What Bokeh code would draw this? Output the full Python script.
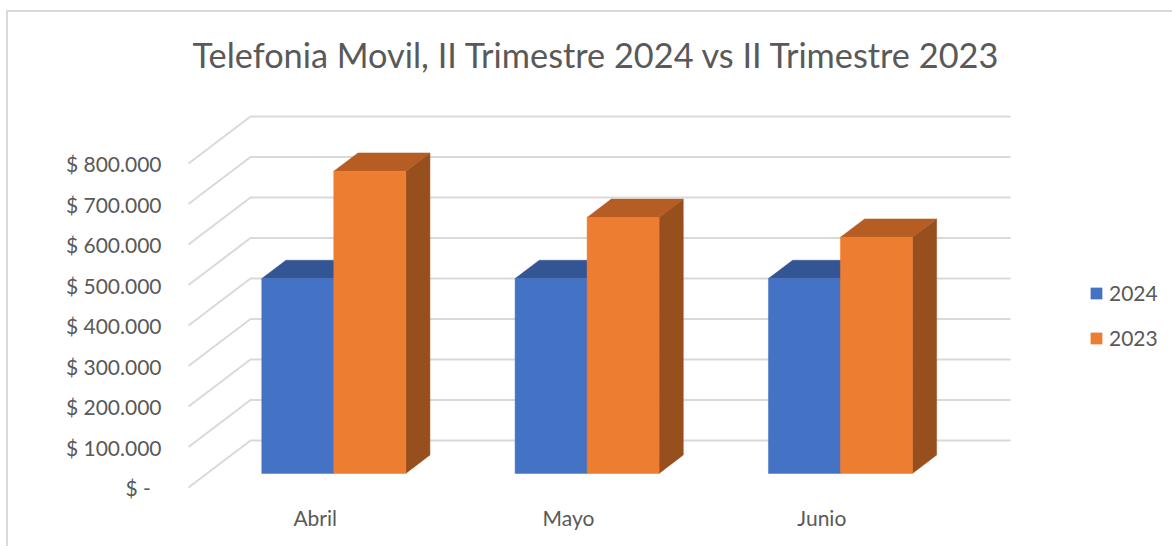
from bokeh.plotting import figure
from bokeh.models import Range1d, FixedTicker, Legend, LegendItem, Title
from bokeh.embed import file_html
from bokeh.resources import INLINE

categories = ["Abril", "Mayo", "Junio"]
series_names = ["2024", "2023"]
values_2024 = [481000, 481000, 481000]
values_2023 = [746000, 632000, 583000]
tick_values = [0, 100000, 200000, 300000, 400000, 500000, 600000, 700000, 800000]
tick_labels = ["$ -\u00a0\u00a0", "$ 100.000", "$ 200.000", "$ 300.000", "$ 400.000",
               "$ 500.000", "$ 600.000", "$ 700.000", "$ 800.000"]

FONT = "Lato"
TEXT = "#595959"
GRID = "#d9d9d9"
BLUE = ("#4472C4", "#335593", "#2F5597")
ORANGE = ("#ED7D31", "#B55D22", "#964F1D")

# scale: one category = 253.33 px, 100 000 $ = 40.5 px
PX_X = 1 / 253.33
PX_Y = 100000 / 40.5
DX = 62 * PX_X        # oblique offset of the full depth of the chart box
DY = 47 * PX_Y
BAR_W = 0.2842
D0, D1 = 0.30, 0.69   # depth occupied by the bars
CAT_COUNT = len(categories)

W, H = 1172, 546
FRAME_L, FRAME_R, FRAME_T, FRAME_B = 184, 1172, 105, 492
ORIGIN_X, ORIGIN_Y = 188, 487


def proj(x, v, d):
    return x + DX * d, v + DY * d


p = figure(
    width=W, height=H, output_backend="svg", toolbar_location=None,
    frame_width=FRAME_R - FRAME_L, frame_height=FRAME_B - FRAME_T,
    min_border_left=FRAME_L, min_border_right=W - FRAME_R,
    min_border_top=FRAME_T, min_border_bottom=H - FRAME_B,
    x_range=Range1d((FRAME_L - ORIGIN_X) * PX_X, (FRAME_R - ORIGIN_X) * PX_X),
    y_range=Range1d((ORIGIN_Y - FRAME_B) * PX_Y, (ORIGIN_Y - FRAME_T) * PX_Y),
    background_fill_color=None, border_fill_color=None,
)
p.outline_line_color = None
p.grid.visible = False

# Chart-area border, painted behind the transparent plot
p.styles = {
    "background": (
        f"linear-gradient({GRID},{GRID}) 6px 10px/{W - 6}px 2px no-repeat,"
        f"linear-gradient({GRID},{GRID}) 6px 10px/2px {H - 10}px no-repeat,"
        "white"
    )
}

p.add_layout(Title(text="Telefonia Movil, II Trimestre 2024 vs II Trimestre 2023",
                   align="left", offset=8, standoff=62, text_font=FONT,
                   text_font_size="34.3px", text_font_style="normal", text_color=TEXT), "above")

# Axes
for ax in (p.yaxis[0], p.xaxis[0]):
    ax.axis_line_color = None
    ax.major_tick_line_color = None
    ax.minor_tick_line_color = None
    ax.major_tick_out = 0
    ax.major_label_text_font = FONT
    ax.major_label_text_font_size = "21px"
    ax.major_label_text_color = TEXT

p.yaxis[0].ticker = FixedTicker(ticks=tick_values)
p.yaxis[0].major_label_overrides = dict(zip(tick_values, tick_labels))
p.yaxis[0].major_label_standoff = 23

cat_pos = [i + 0.5 for i in range(CAT_COUNT)]
p.xaxis[0].ticker = FixedTicker(ticks=cat_pos)
p.xaxis[0].major_label_overrides = dict(zip(cat_pos, categories))
p.xaxis[0].major_label_standoff = 12

# Walls' gridlines
xs, ys = [], []
for v in tick_values:
    x0, y0 = proj(0, v, 0)
    x1, y1 = proj(0, v, 1)
    x2, y2 = proj(CAT_COUNT, v, 1)
    xs.append([x0, x1, x2])
    ys.append([y0, y1, y2])
p.multi_line(xs, ys, line_color=GRID, line_width=2)


def quad(pts):
    return [q[0] for q in pts], [q[1] for q in pts]


def bars(vals, left_offset, colors):
    front, top, side = ([], []), ([], []), ([], [])
    for i, v in enumerate(vals):
        a = i + 0.5 + left_offset
        b = a + BAR_W
        for target, pts in (
            (front, [proj(a, 0, D0), proj(b, 0, D0), proj(b, v, D0), proj(a, v, D0)]),
            (top, [proj(a, v, D0), proj(b, v, D0), proj(b, v, D1), proj(a, v, D1)]),
            (side, [proj(b, 0, D0), proj(b, 0, D1), proj(b, v, D1), proj(b, v, D0)]),
        ):
            qx, qy = quad(pts)
            target[0].append(qx)
            target[1].append(qy)
    p.patches(side[0], side[1], fill_color=colors[2], line_color=colors[2], line_width=0.5)
    p.patches(top[0], top[1], fill_color=colors[1], line_color=colors[1], line_width=0.5)
    return p.patches(front[0], front[1], fill_color=colors[0], line_color=colors[0], line_width=0.5)


r_2024 = bars(values_2024, -BAR_W, BLUE)
r_2023 = bars(values_2023, 0, ORANGE)

legend = Legend(
    items=[LegendItem(label=series_names[0], renderers=[r_2024]),
           LegendItem(label=series_names[1], renderers=[r_2023])],
    location=(1095 - FRAME_L - 6, FRAME_B - 350),
    orientation="vertical", background_fill_alpha=0, border_line_color=None,
    glyph_width=14, glyph_height=14, label_standoff=6, label_height=22,
    spacing=20, padding=6, margin=0,
    label_text_font=FONT, label_text_font_size="21px", label_text_color=TEXT,
)
p.add_layout(legend, "center")

open("out.html", "w").write(file_html(p, INLINE))
